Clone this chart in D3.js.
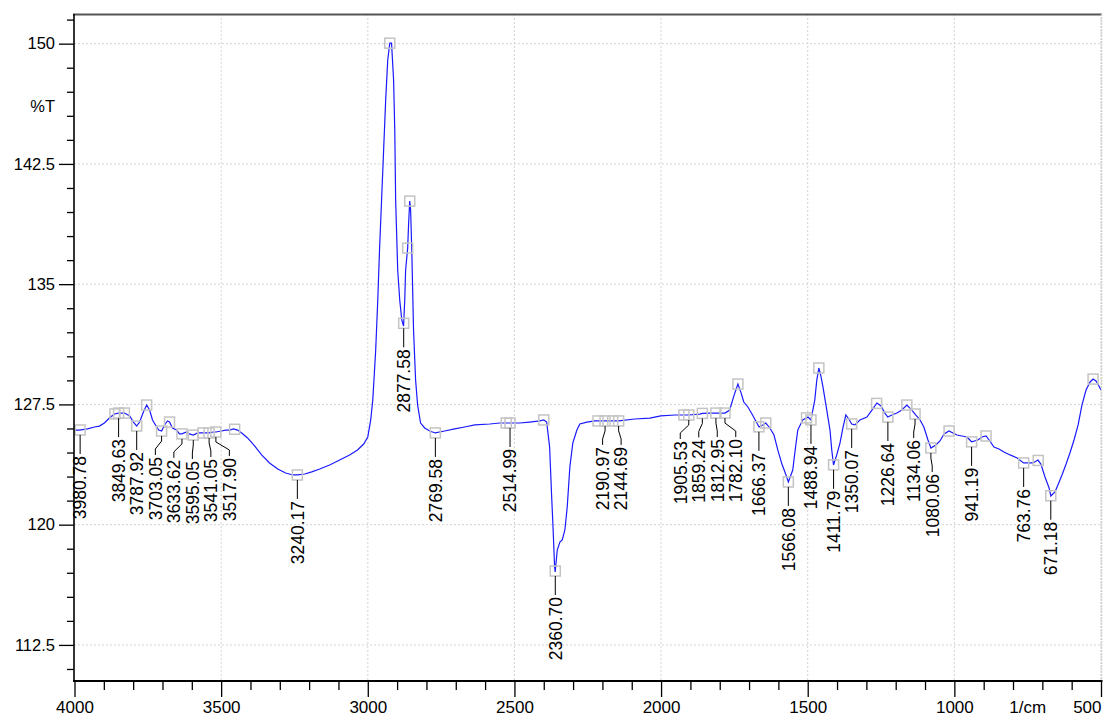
<!DOCTYPE html>
<html><head><meta charset="utf-8">
<script src="https://cdn.jsdelivr.net/npm/d3@7"></script>
<style>body{margin:0;background:#fff}svg{display:block}</style>
</head><body><svg id="chart" width="1105" height="717"></svg>
<script>
// ---------- DATA ----------
const wavenumbers = [4000,3983,3956,3932,3915,3898,3881,3864,3850,3829,3812,3799,3788,3778,3765,3754,3744,3734,3724,3713,3703,3693,3683,3676,3666,3652,3642,3634,3618,3608,3595,3580,3567,3553,3541,3526,3518,3499,3485,3471,3458,3444,3430,3410,3386,3362,3335,3307,3280,3256,3240,3215,3191,3164,3130,3096,3062,3035,3014,3000,2990,2983,2973,2966,2960,2953,2946,2939,2932,2925,2919,2912,2908,2905,2898,2891,2884,2878,2874,2871,2864,2861,2857,2854,2850,2847,2844,2837,2830,2820,2806,2789,2770,2738,2704,2670,2635,2584,2550,2515,2482,2448,2414,2400,2390,2380,2373,2368,2363,2361,2354,2345,2337,2328,2320,2311,2301,2287,2277,2253,2226,2191,2145,2090,2038,2001,1953,1906,1868,1859,1834,1813,1806,1782,1766,1752,1738,1728,1718,1704,1690,1677,1666,1653,1643,1629,1615,1602,1588,1574,1566,1551,1544,1534,1517,1499,1489,1476,1469,1462,1455,1448,1435,1424,1418,1412,1401,1390,1380,1370,1360,1350,1339,1322,1298,1281,1264,1250,1237,1227,1213,1196,1179,1162,1145,1134,1117,1104,1090,1080,1063,1049,1035,1018,1005,991,974,957,947,941,920,906,892,879,865,848,831,810,786,764,749,732,715,705,691,677,671,657,647,633,619,606,592,578,565,551,537,527,517,507,500];
const transmittance = [125.90,125.90,125.97,126.09,126.15,126.34,126.65,126.90,126.96,126.96,126.78,126.40,126.15,126.40,127.03,127.46,127.15,126.53,126.22,125.90,125.84,126.22,126.47,126.40,126.03,125.90,125.66,125.66,125.78,125.66,125.59,125.72,125.72,125.72,125.72,125.78,125.78,125.84,125.90,125.90,125.97,125.90,125.72,125.41,124.91,124.35,123.85,123.47,123.22,123.10,123.10,123.16,123.29,123.47,123.72,124.03,124.35,124.66,125.03,125.47,126.53,127.77,130.89,134.00,137.12,140.24,143.36,146.48,148.97,150.03,150.03,147.73,144.61,140.24,135.88,134.00,132.76,132.39,134.00,135.88,137.25,138.69,140.18,139.62,137.12,134.63,132.14,129.02,127.46,126.34,126.03,125.84,125.72,125.84,125.97,126.09,126.22,126.28,126.34,126.34,126.34,126.40,126.47,126.53,126.40,124.84,121.73,119.67,117.36,117.05,118.42,118.92,119.05,119.67,121.10,123.60,125.09,125.90,126.28,126.40,126.47,126.47,126.47,126.59,126.65,126.78,126.84,126.84,126.90,126.94,126.96,126.96,126.96,126.96,127.15,128.02,128.77,128.27,127.65,127.34,126.90,126.47,126.09,126.22,126.34,126.03,125.59,124.66,123.78,123.10,122.66,123.41,124.47,125.90,126.53,126.71,126.53,127.77,129.02,129.77,129.27,128.59,127.15,125.90,124.66,123.72,124.35,125.09,126.03,126.84,126.59,126.28,126.22,126.53,126.71,127.15,127.59,127.40,126.96,126.71,126.84,126.96,127.15,127.46,127.15,126.90,126.53,126.09,125.28,124.78,124.97,125.22,125.66,125.84,125.72,125.59,125.53,125.47,125.28,125.16,125.28,125.47,125.53,125.22,124.84,124.72,124.53,124.35,124.16,123.85,123.85,123.85,124.03,123.78,122.97,122.29,121.79,122.04,122.48,123.10,123.78,124.47,125.28,126.22,127.46,128.40,128.90,129.08,128.96,128.65,128.40];
const peakLabels = [3980.78,3849.63,3787.92,3703.05,3633.62,3595.05,3541.05,3517.90,3240.17,2877.58,2769.58,2514.99,2360.70,2190.97,2144.69,1905.53,1859.24,1812.95,1782.10,1666.37,1566.08,1488.94,1411.79,1350.07,1226.64,1134.06,1080.06,941.19,763.76,671.18];
const extraMarkers = [3862,3830,3754,3676,3562,3454,2925,2864,2857,2528,2400,2215,2165,1922,1738,1643,1504,1462,1265,1162,1018,892,714,527];
const yTicks = [112.5,120,127.5,135,142.5,150];
const xTicks = [4000,3500,3000,2500,2000,1500,1000,500];
const xTickLabels = ["4000","3500","3000","2500","2000","1500","1000","500"];
const xUnitLabel = "1/cm";
const xUnitAt = 750;
const yUnitLabel = "%T";

// ---------- CHART ----------
const svg = d3.select("#chart");
const FONT = "'Liberation Sans', Arial, sans-serif";
const L = 74, R = 1101.5, T = 14, B = 681;
const x = d3.scaleLinear().domain([4000,500]).range([74.5,1101]);
const y = d3.scaleLinear().domain([110.25,151.85]).range([B,T]);

svg.append("rect").attr("width",1105).attr("height",717).attr("fill","#fff");

// grid
const g = svg.append("g");
g.selectAll(".hg").data(yTicks).join("line")
  .attr("x1",L).attr("x2",R).attr("y1",d=>y(d)).attr("y2",d=>y(d))
  .attr("stroke","#d4d4d4").attr("stroke-dasharray","2,2").attr("stroke-width",1);
g.selectAll(".vg").data(xTicks.slice(1)).join("line")
  .attr("x1",d=>x(d)).attr("x2",d=>x(d)).attr("y1",T).attr("y2",B)
  .attr("stroke","#d4d4d4").attr("stroke-dasharray","2,2").attr("stroke-width",1);

// spectrum
const spec = wavenumbers.map((w,i)=>({w, t:transmittance[i]}));
function tAt(w){
  for(let i=0;i<spec.length-1;i++){
    const a=spec[i], b=spec[i+1];
    if(w<=a.w && w>=b.w){ const f=(a.w-w)/(a.w-b.w); return a.t+f*(b.t-a.t); }
  }
  return spec[spec.length-1].t;
}
svg.append("path").datum(spec)
  .attr("d", d3.line().x(d=>x(d.w)).y(d=>y(d.t)))
  .attr("fill","none").attr("stroke","#1a1aff").attr("stroke-width",1.2);

// markers
const allMarkers = peakLabels.concat(extraMarkers);
svg.selectAll(".mk").data(allMarkers).join("rect")
  .attr("x",d=>x(d)-5).attr("y",d=>y(tAt(d))-5).attr("width",10).attr("height",10)
  .attr("fill","none").attr("stroke","#c4c4c4").attr("stroke-width",1.5);

// label layout
const lab = peakLabels.map(w=>({w, mx:x(w), my:y(tAt(w))})).sort((a,b)=>a.mx-b.mx);
const gap = 18.5;
let groups = lab.map(d=>({items:[d], center:d.mx}));
const pos = gr => gr.items.map((d,i)=> gr.center + (i-(gr.items.length-1)/2)*gap);
let changed = true;
while(changed){
  changed=false;
  for(let i=0;i<groups.length-1;i++){
    const pa=pos(groups[i]), pb=pos(groups[i+1]);
    if(pb[0]-pa[pa.length-1] < gap-0.01){
      const items=groups[i].items.concat(groups[i+1].items);
      groups.splice(i,2,{items, center:d3.mean(items,d=>d.mx)});
      changed=true; break;
    }
  }
}
groups.forEach(gr=>{ const p=pos(gr); gr.items.forEach((d,i)=>d.lx=p[i]); });

const lg = svg.append("g");
lab.forEach(d=>{
  let path;
  if(Math.abs(d.lx-d.mx)<0.8) path = `M${d.mx},${d.my+5}V${d.my+24}`;
  else path = `M${d.mx},${d.my+5}V${d.my+10}L${d.lx},${d.my+18}V${d.my+24}`;
  lg.append("path").attr("d",path).attr("fill","none").attr("stroke","#000").attr("stroke-width",1);
  lg.append("text")
    .attr("transform",`translate(${d.lx},${d.my+26}) rotate(-90)`)
    .attr("text-anchor","end").attr("dy","0.36em")
    .attr("font-family",FONT).attr("font-size","17.5px").attr("fill","#000")
    .text(d.w.toFixed(2));
});

// axes
const yAxis = svg.append("g").attr("transform",`translate(${L},0)`)
  .call(d3.axisLeft(y).tickValues(yTicks).tickSize(15).tickPadding(4).tickFormat(d=>String(d)));
const yMinor = svg.append("g").attr("transform",`translate(${L},0)`)
  .call(d3.axisLeft(y).tickValues(d3.range(111,152,1.5).filter(v=>!yTicks.includes(v))).tickSize(7).tickFormat(""));
const xAxis = svg.append("g").attr("transform",`translate(0,${B})`)
  .call(d3.axisBottom(x).tickValues(xTicks).tickSize(16).tickPadding(4).tickFormat((d,i)=>xTickLabels[i]));
const xMinor = svg.append("g").attr("transform",`translate(0,${B})`)
  .call(d3.axisBottom(x).tickValues(d3.range(600,4000,100).filter(v=>!xTicks.includes(v))).tickSize(9).tickFormat(""));
[yAxis,yMinor,xAxis,xMinor].forEach(a=>{
  a.select(".domain").remove();
  a.selectAll("line").attr("stroke","#000").attr("stroke-width",1.3);
  a.selectAll("text").attr("font-family",FONT).attr("fill","#000");
});
yAxis.selectAll("text").attr("font-size","16.5px");
xAxis.selectAll("text").attr("font-size","17px");
xAxis.selectAll(".tick").filter(d=>d===500).select("text").attr("text-anchor","end");

svg.append("text").attr("x",x(xUnitAt)).attr("y",B+32)
  .attr("text-anchor","middle").attr("font-family",FONT).attr("font-size","17px").text(xUnitLabel);
svg.append("text").attr("x",L-19).attr("y",106).attr("dy","0.35em")
  .attr("text-anchor","end").attr("font-family",FONT).attr("font-size","16.5px").text(yUnitLabel);

// frame
svg.append("line").attr("x1",L-1).attr("x2",R+0.5).attr("y1",T+0.5).attr("y2",T+0.5).attr("stroke","#555").attr("stroke-width",2);
svg.append("line").attr("x1",R).attr("x2",R).attr("y1",T).attr("y2",B).attr("stroke","#cfcfcf").attr("stroke-width",1.5).attr("stroke-dasharray","2,1");
svg.append("line").attr("x1",L).attr("x2",L).attr("y1",T).attr("y2",B+1).attr("stroke","#000").attr("stroke-width",1.6);
svg.append("line").attr("x1",L-1).attr("x2",R+1).attr("y1",B).attr("y2",B).attr("stroke","#000").attr("stroke-width",2);
</script>
</body></html>
